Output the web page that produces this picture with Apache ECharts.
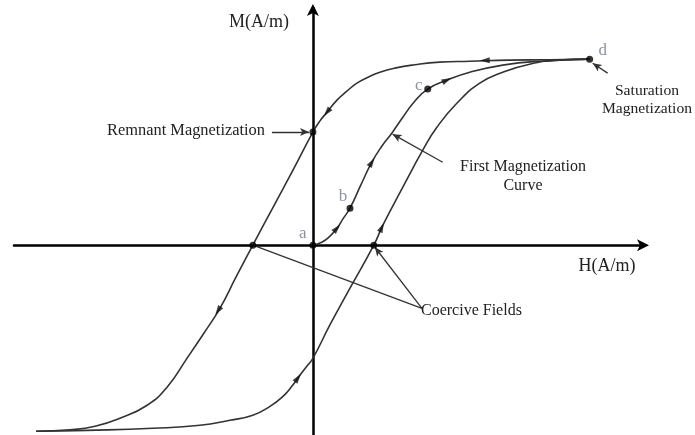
<!DOCTYPE html>
<html>
<head>
<meta charset="utf-8">
<script src="https://cdn.jsdelivr.net/npm/echarts@6/dist/echarts.min.js"></script>
<style>
  html, body { margin: 0; padding: 0; background: #fff; }
  #chart { width: 695px; height: 435px; }
</style>
</head>
<body>
<div id="chart"></div>
<script>
// branches of the loop as [H, M] (saturation = 1)
const descendingBranch = [
  [1.0, 1.0], [0.856, 0.997], [0.711, 0.995], [0.567, 0.989], [0.458, 0.984],
  [0.368, 0.97], [0.296, 0.952], [0.242, 0.93], [0.199, 0.903], [0.159, 0.871],
  [0.123, 0.828], [0.087, 0.78], [0.051, 0.715], [0.025, 0.667], [0, 0.608],
  [-0.072, 0.403], [-0.144, 0.204], [-0.217, 0], [-0.278, -0.172], [-0.336, -0.339],
  [-0.394, -0.473], [-0.455, -0.608], [-0.527, -0.763], [-0.599, -0.86], [-0.697, -0.93],
  [-0.787, -0.973], [-0.877, -0.992], [-1.0, -1.0]
];
const ascendingBranch = [
  [-1.0, -1.0], [-0.816, -0.995], [-0.578, -0.984], [-0.408, -0.968], [-0.3, -0.941],
  [-0.217, -0.914], [-0.155, -0.866], [-0.108, -0.812], [-0.076, -0.758], [-0.047, -0.699],
  [-0.022, -0.651], [0, -0.608], [0.061, -0.43], [0.134, -0.231], [0.22, 0],
  [0.253, 0.108], [0.325, 0.312], [0.397, 0.511], [0.448, 0.634], [0.52, 0.763],
  [0.603, 0.871], [0.686, 0.93], [0.783, 0.973], [0.892, 0.995], [1.0, 1.0]
];
const firstCurve = [
  [0, 0], [0.032, 0.016], [0.061, 0.048], [0.087, 0.091], [0.108, 0.14],
  [0.134, 0.199], [0.173, 0.323], [0.213, 0.446], [0.249, 0.532], [0.285, 0.602],
  [0.325, 0.688], [0.368, 0.774], [0.415, 0.839], [0.484, 0.887], [0.567, 0.93],
  [0.686, 0.968], [0.819, 0.989], [1.0, 1.0]
];

// direction arrows sitting on each branch
const descendingArrows = [[0.621, 0.994], [0.051, 0.715], [-0.343, -0.352]];
const ascendingArrows = [[-0.054, -0.713], [0.249, 0.096]];
const firstArrows = [[0.087, 0.091], [0.213, 0.446], [0.484, 0.887]];

// labelled points a..d and the marked points
const letterPoints = [[0, 0], [0.134, 0.199], [0.415, 0.839], [1.0, 1.0]];
const letterNames = ['a', 'b', 'c', 'd'];
const remanence = [0, 0.608];
const coercive = [[-0.217, 0], [0.22, 0]];

// pointer lines of the annotations
const remnantPointer = [[-0.148, 0.608], [-0.014, 0.608]];
const firstPointer = [[0.469, 0.446], [0.288, 0.597]];
const saturationPointer = [[1.065, 0.925], [1.011, 0.978]];
const coercivePointerLeft = [[0.394, -0.339], [-0.217, 0]];
const coercivePointerRight = [[0.394, -0.339], [0.224, -0.011]];

const serif = '"Liberation Serif", "DejaVu Serif", serif';
const ink = '#333';
const letterColor = '#6a7890';
const letterOffsets = [[-10, -12], [-7, -12], [-9, -4], [13, -9]];

const chart = echarts.init(document.getElementById('chart'));

function curve(name, pts) {
  return {
    name: name, type: 'line', data: pts, smooth: 0.5,
    showSymbol: false, silent: true, z: 3,
    lineStyle: { color: ink, width: 1.6 }
  };
}

function arrowSeries(name, pts) {
  return {
    name: name, type: 'scatter', data: pts, symbol: 'triangle',
    symbolSize: [6, 10], silent: true, z: 4,
    itemStyle: { color: '#111' }
  };
}

function label(text, x, y, size, align) {
  return {
    type: 'text', x: x, y: y, silent: true,
    style: { text: text, font: size + 'px ' + serif, fill: '#222',
      align: align || 'center', verticalAlign: 'middle', lineHeight: size + 3 }
  };
}

const option = {
  animation: false,
  backgroundColor: '#fff',
  grid: { left: 14, right: 50, top: 8, bottom: 0, containLabel: false },
  xAxis: {
    type: 'value', min: -1.08, max: 1.2,
    axisLine: { onZero: true, symbol: ['none', 'arrow'], symbolSize: [9, 12], symbolOffset: [0, 4],
      lineStyle: { color: '#000', width: 2.5 } },
    axisTick: { show: false }, axisLabel: { show: false }, splitLine: { show: false }
  },
  yAxis: {
    type: 'value', min: -1.02, max: 1.275,
    axisLine: { onZero: true, symbol: ['none', 'arrow'], symbolSize: [9, 12], symbolOffset: [0, 4],
      lineStyle: { color: '#000', width: 2.5 } },
    axisTick: { show: false }, axisLabel: { show: false }, splitLine: { show: false }
  },
  series: [
    curve('descending', descendingBranch),
    curve('ascending', ascendingBranch),
    curve('first', firstCurve),
    arrowSeries('descArrows', descendingArrows),
    arrowSeries('ascArrows', ascendingArrows),
    arrowSeries('firstArrows', firstArrows),
    {
      name: 'points', type: 'scatter', symbolSize: 7, silent: true, z: 5,
      itemStyle: { color: '#000' },
      data: letterPoints.map((p, i) => ({
        value: p,
        label: {
          show: true, formatter: letterNames[i], position: 'inside',
          offset: letterOffsets[i], color: letterColor,
          fontFamily: serif, fontSize: 17
        }
      })).concat([remanence].concat(coercive).map(p => ({ value: p }))),
      markLine: {
        silent: true, symbol: ['none', 'arrow'], symbolSize: [6, 9],
        lineStyle: { color: ink, width: 1.3, type: 'solid' },
        label: { show: false }, emphasis: { disabled: true },
        data: [remnantPointer, firstPointer, saturationPointer, coercivePointerRight]
          .map(seg => [{ coord: seg[0] }, { coord: seg[1] }])
          .concat([[{ coord: coercivePointerLeft[0], symbol: 'none' },
                    { coord: coercivePointerLeft[1], symbol: 'none' }]])
      }
    }
  ],
  graphic: [
    label('M(A/m)', 259, 22, 18),
    label('H(A/m)', 607, 266, 18),
    label('Remnant Magnetization', 265, 131, 16.4, 'right'),
    label('First Magnetization\nCurve', 523, 176, 16),
    label('Saturation\nMagnetization', 647, 100, 15.6),
    label('Coercive Fields', 421, 311, 16, 'left')
  ]
};

chart.setOption(option);

// rotate each arrow along the local direction of travel of its branch
function rotations(branch, arrows) {
  const px = branch.map(p => chart.convertToPixel({ gridIndex: 0 }, p));
  return arrows.map(a => {
    const q = chart.convertToPixel({ gridIndex: 0 }, a);
    let best = 0, bestD = Infinity;
    for (let i = 0; i < px.length - 1; i++) {
      const mx = (px[i][0] + px[i + 1][0]) / 2, my = (px[i][1] + px[i + 1][1]) / 2;
      const d = (mx - q[0]) ** 2 + (my - q[1]) ** 2;
      if (d < bestD) { bestD = d; best = i; }
    }
    const dx = px[best + 1][0] - px[best][0];
    const dy = -(px[best + 1][1] - px[best][1]);
    return Math.atan2(-dx, dy) * 180 / Math.PI;
  });
}

const rotDesc = rotations(descendingBranch, descendingArrows);
const rotAsc = rotations(ascendingBranch, ascendingArrows);
const rotFirst = rotations(firstCurve, firstArrows);

chart.setOption({
  series: [
    {}, {}, {},
    { data: descendingArrows.map((p, i) => ({ value: p, symbolRotate: rotDesc[i] })) },
    { data: ascendingArrows.map((p, i) => ({ value: p, symbolRotate: rotAsc[i] })) },
    { data: firstArrows.map((p, i) => ({ value: p, symbolRotate: rotFirst[i] })) }
  ]
});
</script>
</body>
</html>
